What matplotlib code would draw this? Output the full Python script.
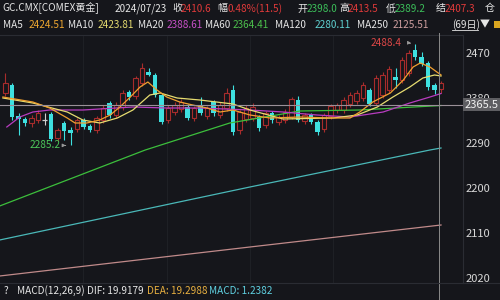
import matplotlib

matplotlib.use("Agg")
import matplotlib.pyplot as plt
from matplotlib.lines import Line2D
from matplotlib.patches import Rectangle
import numpy as np

plt.rcParams["font.family"] = ["Noto Sans CJK SC", "DejaVu Sans"]

BG = "#15161b"
UP = "#a82c2c"
DOWN = "#3ee0e0"
WHITE = "#e6e6e6"

# 日K 数据
OPEN = [2390, 2406, 2344, 2338, 2330, 2336, 2336, 2348, 2300, 2330,
        2316, 2318, 2336, 2324, 2316, 2336, 2370, 2346, 2362, 2392,
        2384, 2410, 2432, 2426, 2386, 2336, 2352, 2358, 2362, 2340,
        2366, 2344, 2372, 2346, 2360, 2396, 2316, 2338, 2340, 2342,
        2326, 2350, 2332, 2336, 2342, 2376, 2334, 2346, 2332, 2318,
        2344, 2356, 2356, 2368, 2374, 2380, 2396, 2370, 2386, 2396,
        2422, 2416, 2430, 2476, 2462, 2450, 2406, 2398.0]
HIGH = [2430, 2410, 2350, 2342, 2346, 2356, 2350, 2352, 2320, 2334,
        2322, 2340, 2340, 2328, 2344, 2366, 2374, 2372, 2396, 2396,
        2424, 2450, 2440, 2430, 2390, 2366, 2372, 2378, 2368, 2364,
        2382, 2364, 2376, 2372, 2400, 2406, 2356, 2366, 2370, 2346,
        2354, 2354, 2346, 2358, 2382, 2384, 2350, 2350, 2336, 2350,
        2368, 2370, 2382, 2392, 2396, 2412, 2400, 2426, 2432, 2444,
        2440, 2462, 2476, 2488.4, 2472, 2454, 2410, 2413.5]
LOW = [2384, 2336, 2306, 2324, 2322, 2330, 2326, 2294, 2294, 2296,
       2285.2, 2312, 2318, 2312, 2310, 2330, 2340, 2340, 2356, 2376,
       2378, 2404, 2424, 2382, 2328, 2330, 2346, 2352, 2336, 2334,
       2346, 2338, 2344, 2340, 2354, 2306, 2308, 2332, 2334, 2314,
       2320, 2330, 2326, 2330, 2338, 2332, 2328, 2328, 2306, 2312,
       2338, 2350, 2350, 2362, 2368, 2374, 2364, 2366, 2380, 2390,
       2400, 2410, 2424, 2456, 2444, 2396, 2388, 2389.2]
CLOSE = [2410, 2342, 2338, 2330, 2340, 2350, 2336, 2298, 2316, 2314,
         2310, 2336, 2322, 2316, 2340, 2360, 2346, 2366, 2390, 2382,
         2420, 2440, 2426, 2386, 2332, 2360, 2366, 2372, 2340, 2360,
         2350, 2360, 2350, 2366, 2390, 2312, 2352, 2360, 2362, 2320,
         2350, 2336, 2342, 2352, 2378, 2336, 2346, 2332, 2312, 2346,
         2364, 2366, 2376, 2386, 2390, 2406, 2368, 2420, 2426, 2438,
         2416, 2456, 2470, 2462, 2448, 2402, 2396, 2410.6]

# 均线（按K线序号估读的折点）
MA5_X = [-0.4, 4.2, 6.8, 9.5, 10.7, 12.5, 14.5, 16.1, 17.6, 19.2, 20.7, 21.9,
         23.3, 24.8, 26.8, 28.8, 31.0, 33.0, 35.0, 37.6, 40.7, 45.3, 49.9,
         53.0, 54.5, 56.5, 59.2, 61.2, 62.7, 63.8, 65.3, 67.0]
MA5_Y = [2382, 2372, 2360, 2340, 2330, 2330, 2336, 2346, 2362, 2382, 2402, 2412,
         2396, 2382, 2372, 2366, 2360, 2352, 2356, 2346, 2340, 2342, 2340,
         2340, 2352, 2372, 2390, 2416, 2442, 2450, 2442, 2426]
MA10_X = [-0.4, 4.2, 9.5, 11.9, 14.5, 17.2, 19.6, 22.2, 23.8, 26.4, 29.9,
          35.0, 37.6, 42.7, 50.4, 54.1, 57.2, 59.6, 62.2, 64.2, 66.0, 67.0]
MA10_Y = [2380, 2370, 2352, 2336, 2330, 2340, 2356, 2386, 2390, 2380, 2376,
          2368, 2356, 2338, 2340, 2346, 2362, 2382, 2402, 2420, 2426, 2424]
MA20_X = [0.2, 2.2, 4.2, 6.8, 11.9, 19.6, 24.8, 29.9, 37.6, 42.7, 47.9,
          53.0, 58.1, 62.2, 65.3, 67.0]
MA20_Y = [2322, 2342, 2352, 2356, 2356, 2362, 2360, 2360, 2356, 2352, 2346,
          2342, 2352, 2370, 2382, 2389]
MA60_X = [-0.9, 21.5, 34.5, 45.3, 54.5, 67.0]
MA60_Y = [2164, 2276, 2330, 2354, 2356, 2365]
MA120_X = [-0.9, 37.6, 65.3, 67.0]
MA120_Y = [2096, 2202, 2276, 2280]
MA250_X = [-0.9, 37.6, 67.0]
MA250_Y = [2024, 2082, 2126]

Y_TICKS = [2020, 2110, 2200, 2290, 2380, 2470]
CROSS_PRICE = 2365.5
FS = 7.2


def px(x, y):
    return x / 500, 1 - y / 300


fig = plt.figure(figsize=(5, 3), dpi=100)
fig.patch.set_facecolor(BG)

ax = fig.add_axes([0, 17 / 300, 463 / 500, 248 / 300])
ax.set_facecolor(BG)
ax.set_xlim(-0.846, 70.38)
ax.set_ylim(2010, 2506)

# 淡网格
for gx in [83, 167, 250, 333]:
    ax.axvline((gx - 5.5) / 6.5, color="#202228", lw=0.6, zorder=0)

idx = np.arange(len(OPEN))
o = np.array(OPEN)
c = np.array(CLOSE)
h = np.array(HIGH)
lo = np.array(LOW)
up = c > o
down = c < o
flat = c == o
w = 0.68

# 阳线：空心红
ax.vlines(idx[up], lo[up], o[up], color=UP, lw=0.8, zorder=2)
ax.vlines(idx[up], c[up], h[up], color=UP, lw=0.8, zorder=2)
ax.bar(idx[up], c[up] - o[up], bottom=o[up], width=w, facecolor=BG,
       edgecolor=UP, linewidth=0.8, zorder=2)
# 阴线：实心青
ax.vlines(idx[down], lo[down], h[down], color=DOWN, lw=0.8, zorder=2)
ax.bar(idx[down], c[down] - o[down], bottom=o[down], width=w, color=DOWN,
       linewidth=0, zorder=3)
# 十字星
ax.vlines(idx[flat], lo[flat], h[flat], color="#cfcfcf", lw=0.8, zorder=2)
ax.hlines(o[flat], idx[flat] - w / 2, idx[flat] + w / 2, color="#cfcfcf",
          lw=0.9, zorder=2)

ax.plot(MA250_X, MA250_Y, color="#c08a8a", lw=0.9, zorder=4)
ax.plot(MA120_X, MA120_Y, color="#4ab8b8", lw=0.9, zorder=4)
ax.plot(MA60_X, MA60_Y, color="#3cbf3c", lw=0.9, zorder=4)
ax.plot(MA20_X, MA20_Y, color="#b83cc0", lw=0.9, zorder=4)
ax.plot(MA10_X, MA10_Y, color="#e6dc70", lw=0.9, zorder=4)
ax.plot(MA5_X, MA5_Y, color="#f0a030", lw=0.9, zorder=4)

# 十字光标
ax.axhline(CROSS_PRICE, color="#9a9098", lw=0.8, zorder=5)

# 最高 / 最低标注
lo_i = int(np.argmin(lo))
hi_i = int(np.argmax(h))
ax.annotate(f"{LOW[lo_i]:.1f}", xy=(lo_i - 0.3, LOW[lo_i]),
            xytext=(lo_i - 1.6, LOW[lo_i]), color="#4cc85a", fontsize=FS,
            ha="right", va="center",
            arrowprops=dict(arrowstyle="-|>", color="#9a9a9a", lw=0.6,
                            mutation_scale=5), zorder=6)
ax.annotate(f"{HIGH[hi_i]:.1f}", xy=(hi_i - 0.3, HIGH[hi_i] - 2),
            xytext=(hi_i - 2.0, HIGH[hi_i] + 2), color="#e04848", fontsize=FS,
            ha="right", va="center",
            arrowprops=dict(arrowstyle="-|>", color="#9a9a9a", lw=0.6,
                            mutation_scale=5,
                            connectionstyle="angle,angleA=0,angleB=90,rad=0"),
            zorder=6)

ax.set_xticks([])
ax.yaxis.tick_right()
ax.set_yticks(Y_TICKS)
ax.tick_params(axis="y", length=0, pad=2, labelsize=8, labelcolor="#d8d8d8")
for side in ["left", "bottom"]:
    ax.spines[side].set_visible(False)
ax.spines["top"].set_color("#2a2c33")
ax.spines["right"].set_color("#2a2c33")
ax.spines["top"].set_linewidth(0.8)
ax.spines["right"].set_linewidth(0.8)

# 竖直光标线与价格标签
fig.add_artist(Line2D([439 / 500, 439 / 500], [0, 1 - 33 / 300],
                      color="#8a8a8a", lw=0.7))
fig.add_artist(Line2D([0, 1], [1 - 283 / 300, 1 - 283 / 300],
                      color="#2a2c33", lw=0.8))
fig.add_artist(Rectangle(px(463, 111), 37 / 500, 13 / 300,
                         facecolor="#5e5e62", edgecolor="none", zorder=3))
fig.text(*px(465, 104.5), f"{CROSS_PRICE:.1f}", color="#f2f2f2",
         fontsize=8, va="center", ha="left", zorder=4)

# 顶部行情信息
line1 = [(2, "GC.CMX[COMEX黄金]", WHITE), (115, "2024/07/23", WHITE),
         (172, "收", WHITE), (181, "2410.6", "#e03a3a"),
         (217, "幅", WHITE), (227, "0.48%(11.5)", "#e03a3a"),
         (298, "开", WHITE), (307, "2398.0", "#3cbf5a"),
         (339, "高", WHITE), (348, "2413.5", "#e03a3a"),
         (386, "低", WHITE), (395, "2389.2", "#3cbf5a"),
         (436, "结", WHITE), (445, "2407.3", "#e03a3a"),
         (485, "仓", WHITE)]
for x, s, col in line1:
    fig.text(*px(x, 8.5), s, color=col, fontsize=FS, va="center", ha="left")

line2 = [(3, "MA5", WHITE), (29, "2424.51", "#f0a830"),
         (68, "MA10", WHITE), (98, "2423.81", "#e6dc70"),
         (138, "MA20", WHITE), (167, "2388.61", "#c850c8"),
         (205, "MA60", WHITE), (233, "2364.41", "#4cc04c"),
         (275, "MA120", WHITE), (315, "2280.11", "#5fd0d0"),
         (357, "MA250", WHITE), (393, "2125.51", "#d0a0a0"),
         (452, "(69日)", WHITE), (480, "▼", WHITE)]
for x, s, col in line2:
    fig.text(*px(x, 24.5), s, color=col, fontsize=FS, va="center", ha="left")
fig.add_artist(Line2D([452 / 500, 478 / 500], [1 - 30 / 300, 1 - 30 / 300],
                      color=WHITE, lw=0.6))
fig.add_artist(Rectangle(px(494, 28), 8 / 500, 7 / 300, facecolor="#d9a520",
                         edgecolor="none"))

# 底部 MACD 指标
line3 = [(4, "?", WHITE), (17, "MACD(12,26,9)", WHITE),
         (87, "DIF: 19.9179", WHITE), (147, "DEA: 19.2988", "#e8b040"),
         (209, "MACD: 1.2382", "#5fd0e0")]
for x, s, col in line3:
    fig.text(*px(x, 290.5), s, color=col, fontsize=FS, va="center", ha="left")

fig.savefig("out.png", dpi=100, facecolor=BG)
